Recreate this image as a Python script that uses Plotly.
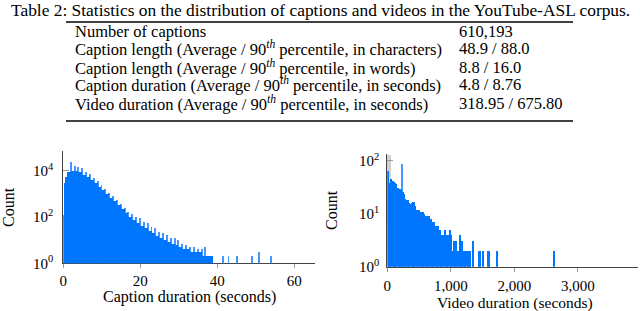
import plotly.graph_objects as go

# ---------------- data ----------------
table_title = "Table 2: Statistics on the distribution of captions and videos in the YouTube-ASL corpus."
row_labels = [
    "Number of captions",
    "Caption length (Average / 90<sup><i>th</i></sup> percentile, in characters)",
    "Caption length (Average / 90<sup><i>th</i></sup> percentile, in words)",
    "Caption duration (Average / 90<sup><i>th</i></sup> percentile, in seconds)",
    "Video duration (Average / 90<sup><i>th</i></sup> percentile, in seconds)",
]
row_values = ["610,193", "48.9 / 88.0", "8.8 / 16.0", "4.8 / 8.76", "318.95 / 675.80"]

# caption duration histogram (seconds): bin edges and counts
cap_edges = [0, 0.35, 0.7, 1, 2, 3, 4, 5, 6, 7, 8, 9, 10, 11, 12, 13, 14, 15, 16, 17, 18, 19,
             20, 21, 22, 23, 24, 25, 26, 27, 28, 29, 30, 31, 32, 33, 34, 35, 36, 37, 38, 39, 40]
cap_counts = [123, 2900, 5600, 9000, 10200, 10000, 8800, 6800, 5400, 4000, 3000, 2100, 1500,
              1000, 680, 480, 320, 220, 150, 100, 75, 55, 42, 33, 26, 20, 15, 12, 10, 8, 7, 6,
              5, 4, 4, 3, 3, 3, 2, 2, 2, 1]
# spikes at whole seconds and sparse outliers
cap_spike_x = [2, 3, 4, 5, 6, 7, 8, 9, 10, 11, 12, 13, 14, 15, 16, 17, 18, 19, 20, 21, 22, 23,
               24, 25, 26, 27, 28, 29, 30, 31, 32, 33, 34, 35, 36, 37, 41.5, 43, 45.2, 49.1, 51, 54.1]
cap_spike_y = [25000, 16000, 15000, 13000, 9000, 7000, 5000, 3500, 2500, 1700, 1150, 780, 540,
               370, 250, 170, 132, 105, 89, 63, 54, 39, 33, 23, 20, 17, 12, 12, 10, 7, 6, 5, 5,
               4, 4, 5, 2, 2, 2, 2, 3, 2]

# video duration histogram (seconds): bin starts and counts
vid_bins = [0, 20, 40, 60, 80, 100, 120, 140, 160, 180, 200, 220, 240, 260, 280, 300, 320, 340,
            360, 380, 400, 420, 440, 460, 480, 500, 520, 540, 560, 580, 600, 620, 640, 660, 680,
            700, 720, 740, 760, 780, 800, 820, 840, 860, 880, 900, 920, 940, 960, 980, 1000,
            1020, 1040, 1060, 1080, 1100, 1120, 1140, 1160, 1180, 1200, 1220, 1240, 1260, 1280,
            1300, 1340, 1440, 1460, 1500, 1580, 1600, 1720, 2620]
vid_counts = [65, 38, 36, 46, 42, 40, 38, 37, 31, 30, 29, 28, 26, 24, 19, 18, 18, 16, 15, 16,
              17, 17, 14, 12, 11, 12, 11, 10, 11, 10, 9, 9, 8, 9, 8, 7, 7, 7, 6, 6, 6, 5, 4, 4,
              4, 5, 4, 4, 4, 5, 4, 2, 3, 3, 3, 2, 2, 4, 3, 3, 2, 2, 2, 2, 2, 2, 3, 2, 2, 2, 2,
              2, 2, 2]
vid_spike_x = [236]
vid_spike_y = [87]

# ---------------- figure ----------------
W, H = 640, 311
BLUE = "rgb(0,118,255)"
LIGHT = "rgb(70,150,255)"
FONT = "Liberation Serif"


def px_x(p):
    return p / W


def px_y(p):
    return 1 - p / H


cap_x = [(a + b) / 2 for a, b in zip(cap_edges[:-1], cap_edges[1:])]
cap_w = [b - a for a, b in zip(cap_edges[:-1], cap_edges[1:])]
VBW = 20
vid_x = [b + VBW / 2 for b in vid_bins]

fig = go.Figure()
# spikes first so the main histogram sits over them
fig.add_trace(go.Bar(x=cap_spike_x, y=cap_spike_y, width=0.25, marker=dict(color=LIGHT, line=dict(width=0)),
                     xaxis="x", yaxis="y"))
fig.add_trace(go.Bar(x=cap_x, y=cap_counts, width=cap_w, marker=dict(color=BLUE, line=dict(width=0)),
                     xaxis="x", yaxis="y"))
fig.add_trace(go.Bar(x=vid_spike_x, y=vid_spike_y, width=14, marker=dict(color=LIGHT, line=dict(width=0)),
                     xaxis="x2", yaxis="y2"))
fig.add_trace(go.Bar(x=vid_x, y=vid_counts, width=VBW, marker=dict(color=BLUE, line=dict(width=0)),
                     xaxis="x2", yaxis="y2"))

axis_common = dict(showline=True, linecolor="#444", linewidth=1, showgrid=False, zeroline=False,
                   tickcolor="#999", tickfont=dict(family=FONT, size=15, color="black"),
                   layer="below traces", automargin=False)

fig.update_layout(
    width=W, height=H, margin=dict(l=0, r=0, t=0, b=0),
    paper_bgcolor="white", plot_bgcolor="white", showlegend=False,
    barmode="overlay", bargap=0,
    xaxis=dict(domain=[px_x(63.3), px_x(315)], range=[0, 65.4], tickvals=[0, 20, 40, 60],
               ticks="outside", ticklen=4, anchor="y", **axis_common),
    yaxis=dict(domain=[px_y(263.3), px_y(151)], type="log", range=[0, 4.86],
               tickvals=[1, 100, 10000], ticktext=["10<sup>0</sup>", "10<sup>2</sup>", "10<sup>4</sup>"],
               ticks="inside", ticklen=6, ticklabelstandoff=6, anchor="x", **axis_common),
    xaxis2=dict(domain=[px_x(387.3), px_x(638)], range=[0, 3948], tickvals=[0, 1000, 2000, 3000],
                ticktext=["0", "1,000", "2,000", "3,000"], ticks="outside", ticklen=4,
                ticklabelstandoff=1, anchor="y2", **axis_common),
    yaxis2=dict(domain=[px_y(266.7), px_y(154)], type="log", range=[0, 2.13],
                tickvals=[1, 10, 100], ticktext=["10<sup>0</sup>", "10<sup>1</sup>", "10<sup>2</sup>"],
                ticks="inside", ticklen=6, ticklabelstandoff=4, anchor="x2",
                minor=dict(ticks="inside", ticklen=4, tickcolor="#d0d0d0"), **axis_common),
)

ann = []
ann.append(dict(text=table_title, x=0.5, y=px_y(10), xref="paper", yref="paper", showarrow=False,
                xanchor="center", yanchor="middle", font=dict(family=FONT, size=17.4, color="black")))
row_y = [31, 49, 67, 85, 103]
for lab, val, ry in zip(row_labels, row_values, row_y):
    ann.append(dict(text=lab, x=px_x(73), y=px_y(ry), xref="paper", yref="paper", showarrow=False,
                    xanchor="left", yanchor="middle", font=dict(family=FONT, size=16.5, color="black")))
    ann.append(dict(text=val, x=px_x(457), y=px_y(ry), xref="paper", yref="paper", showarrow=False,
                    xanchor="left", yanchor="middle", font=dict(family=FONT, size=16.5, color="black")))
# axis titles
ann.append(dict(text="Caption duration (seconds)", x=px_x(189), y=px_y(297), xref="paper", yref="paper",
                showarrow=False, xanchor="center", yanchor="middle", font=dict(family=FONT, size=16, color="black")))
ann.append(dict(text="Video duration (seconds)", x=px_x(515), y=px_y(303), xref="paper", yref="paper",
                showarrow=False, xanchor="center", yanchor="middle", font=dict(family=FONT, size=15.5, color="black")))
ann.append(dict(text="Count", x=px_x(8), y=px_y(207), xref="paper", yref="paper", textangle=-90,
                showarrow=False, xanchor="center", yanchor="middle", font=dict(family=FONT, size=16, color="black")))
ann.append(dict(text="Count", x=px_x(331), y=px_y(210), xref="paper", yref="paper", textangle=-90,
                showarrow=False, xanchor="center", yanchor="middle", font=dict(family=FONT, size=16, color="black")))
fig.update_layout(annotations=ann)

fig.update_layout(shapes=[
    dict(type="line", xref="paper", yref="paper", x0=px_x(66), x1=px_x(573), y0=px_y(22), y1=px_y(22),
         line=dict(color="black", width=1.5)),
    dict(type="line", xref="paper", yref="paper", x0=px_x(66), x1=px_x(573), y0=px_y(121), y1=px_y(121),
         line=dict(color="black", width=1.5)),
])

fig.write_html("out.html", config={"displayModeBar": False},
               post_script="document.body.style.margin='0px';")
